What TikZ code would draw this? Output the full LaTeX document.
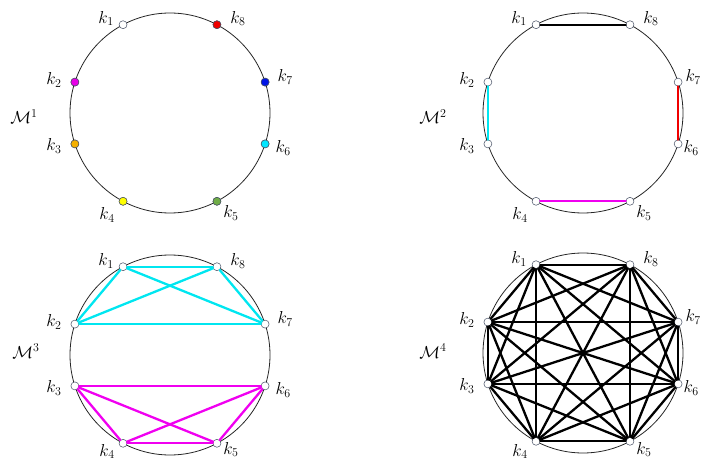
\documentclass[tikz,border=0pt]{standalone}
\definecolor{kmag}{RGB}{230,0,230}
\definecolor{korange}{RGB}{245,176,0}
\definecolor{kyellow}{RGB}{255,255,0}
\definecolor{kgreen}{RGB}{112,173,71}
\definecolor{kcyan}{RGB}{0,230,255}
\definecolor{kblue}{RGB}{0,20,230}
\definecolor{kred}{RGB}{240,0,0}
\definecolor{ecyan}{RGB}{0,230,240}
\definecolor{emag}{RGB}{240,0,240}
\definecolor{mkline}{RGB}{70,80,100}
\tikzset{
  ring/.style={draw=black!85, line width=0.8pt},
  vtx/.style={circle, draw=mkline, line width=0.5pt, fill=white, inner sep=0pt, minimum size=8pt},
  lab/.style={inner sep=0pt, font=\LARGE},
  mlab/.style={inner sep=0pt, font=\LARGE},
  edge/.style={line width=2.3pt, line cap=round}
}
\begin{document}
\begin{tikzpicture}[x=1pt,y=-1pt]
\useasboundingbox (0,0) rectangle (701,462);
% circles
\foreach \p/\cx/\cy/\rs/\bs in {a/170/113/0/0, b/583/113/-5/0, c/170/355/0/-6, d/583/353/-5/-4}{
  \draw[ring] (\cx,\cy) circle (100);
  \foreach \i/\ang/\dx/\dy/\sx/\sy in {1/118/-17/-6/0/0, 2/162/-21/-2/0/0, 3/198/-21/2/0/0, 4/242/-16/14/0/1, 5/298/14/12/0/1, 6/342/18/4/1/0, 7/18/20/-5/1/0, 8/62/21/-6/0/0}{
    \node[vtx] (\p\i) at ([shift={(-\ang:100)}]\cx,\cy) {};
    \node[lab] (\p l\i) at ([shift={(\dx+\sx*\rs,\dy+\sy*\bs)}]\p\i) {$k_{\i}$};
  }
}
% M1 coloured markers
\foreach \i/\c in {2/kmag, 3/korange, 4/kyellow, 5/kgreen, 6/kcyan, 7/kblue, 8/kred}{
  \node[vtx, fill=\c] at (a\i) {};
}
% M2 edges
\draw[edge, black] (b1) -- (b8);
\draw[edge, ecyan] (b2) -- (b3);
\draw[edge, kred] (b7) -- (b6);
\draw[edge, emag] (b4) -- (b5);
% M3 edges
\foreach \i/\j in {1/8, 1/7, 1/2, 8/2, 8/7, 2/7}{
  \draw[edge, ecyan] (c\i) -- (c\j);
}
\foreach \i/\j in {3/6, 3/4, 3/5, 6/4, 6/5, 4/5}{
  \draw[edge, emag] (c\i) -- (c\j);
}
% M4 edges (complete graph)
\foreach \i in {1,...,7}{
  \pgfmathtruncatemacro\ni{\i+1}
  \foreach \j in {\ni,...,8}{
    \draw[edge, black] (d\i) -- (d\j);
  }
}
% graph labels
\node[mlab] (m1) at (24,117) {$\mathcal{M}^{1}$};
\node[mlab] (m2) at (433,117) {$\mathcal{M}^{2}$};
\node[mlab] (m3) at (26,351) {$\mathcal{M}^{3}$};
\node[mlab] (m4) at (433,351) {$\mathcal{M}^{4}$};
\end{tikzpicture}
\end{document}
